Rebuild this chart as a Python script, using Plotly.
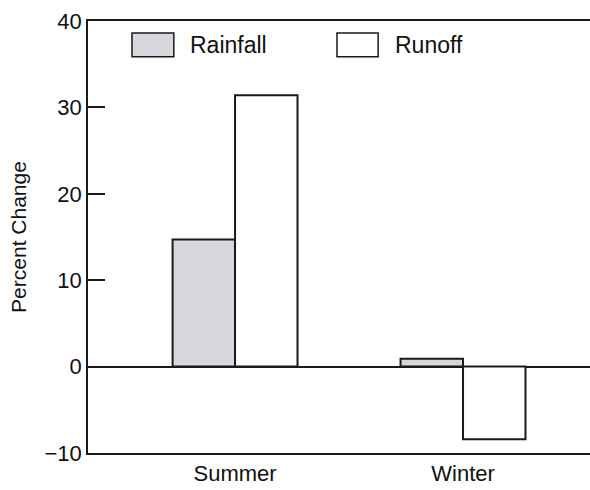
import plotly.graph_objects as go

seasons = ["Summer", "Winter"]
rainfall = [14.7, 0.9]
runoff = [31.4, -8.4]
y_ticks = [-10, 0, 10, 20, 30, 40]
y_tick_labels = ["\u221210", "0", "10", "20", "30", "40"]

FONT = "Liberation Sans, Arial, sans-serif"
LINE = "#1a1a1a"
GRAY = "#d8d5dc"

fig = go.Figure()
fig.add_trace(go.Bar(x=seasons, y=rainfall, name="Rainfall",
                     marker=dict(color=GRAY, line=dict(color=LINE, width=2))))
fig.add_trace(go.Bar(x=seasons, y=runoff, name="Runoff",
                     marker=dict(color="white", line=dict(color=LINE, width=2))))

# legend drawn as boxes + text
legend_items = [("Rainfall", GRAY, 0.0876, 0.171, 0.199),
                ("Runoff", "white", 0.496, 0.578, 0.607)]
for name, col, x0, x1, xt in legend_items:
    fig.add_shape(type="rect", xref="paper", yref="paper", x0=x0, x1=x1,
                  y0=0.917, y1=0.972, fillcolor=col,
                  line=dict(color=LINE, width=1.5), layer="above")
    fig.add_annotation(x=xt, y=0.944, xref="paper", yref="paper", text=name,
                       showarrow=False, xanchor="left", yanchor="middle",
                       font=dict(family=FONT, size=23, color="#111"))

fig.update_layout(
    width=590, height=490,
    margin=dict(l=88, r=0, t=21, b=37, autoexpand=False),
    paper_bgcolor="white", plot_bgcolor="white",
    showlegend=False,
    barmode="group", bargap=0.452, bargroupgap=0,
    font=dict(family=FONT, size=22, color="#111"),
    xaxis=dict(range=[-0.645, 1.557], showline=True, mirror=True,
               linecolor=LINE, linewidth=1.5, showgrid=False, ticks="",
               tickfont=dict(size=22), fixedrange=True, automargin=False),
    yaxis=dict(range=[-10, 40], tickvals=y_ticks, ticktext=y_tick_labels,
               showline=True, linecolor=LINE, linewidth=1.5, automargin=False,
               showgrid=False, ticks="inside", ticklen=17, tickwidth=1.5,
               tickcolor=LINE, zeroline=True, zerolinecolor=LINE,
               zerolinewidth=1.5, tickfont=dict(size=22),
               title=dict(text="Percent Change", font=dict(size=21), standoff=12)),
)

fig.write_html("out.html", config={"displayModeBar": False},
               post_script="document.body.style.margin='0';")
